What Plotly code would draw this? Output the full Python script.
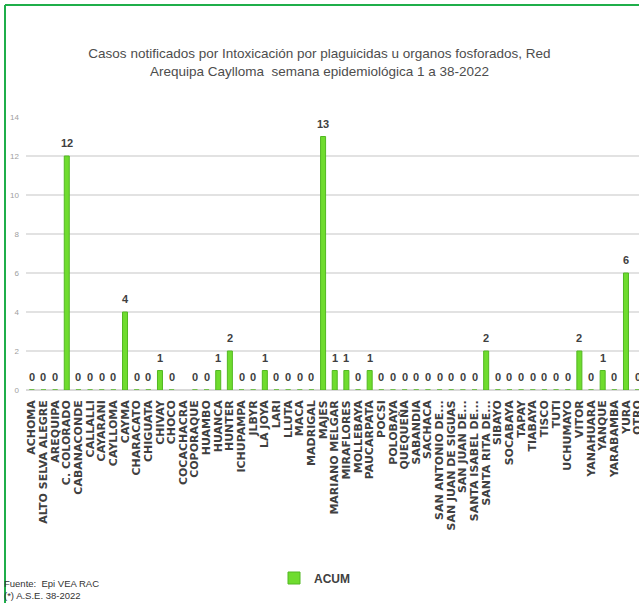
import plotly.graph_objects as go

categories = [
    "ACHOMA", "ALTO SELVA ALEGRE", "AREQUIPA", "C. COLORADO", "CABANACONDE",
    "CALLALLI", "CAYARANI", "CAYLLOMA", "CAYMA", "CHARACATO", "CHIGUATA",
    "CHIVAY", "CHOCO", "COCACHACRA", "COPORAQUE", "HUAMBO", "HUANCA", "HUNTER",
    "ICHUPAMPA", "JLBYR", "LA JOYA", "LARI", "LLUTA", "MACA", "MADRIGAL",
    "MAJES", "MARIANO MELGAR", "MIRAFLORES", "MOLLEBAYA", "PAUCARPATA",
    "POCSI", "POLOBAYA", "QUEQUEÑA", "SABANDIA", "SACHACA",
    "SAN ANTONIO DE...", "SAN JUAN DE SIGUAS", "SAN JUAN DE...",
    "SANTA ISABEL DE...", "SANTA RITA DE...", "SIBAYO", "SOCABAYA", "TAPAY",
    "TIABAYA", "TISCO", "TUTI", "UCHUMAYO", "VITOR", "YANAHUARA", "YANQUE",
    "YARABAMBA", "YURA", "OTRO",
]
acum = [
    0, 0, 0, 12, 0,
    0, 0, 0, 4, 0, 0,
    1, 0, None, 0, 0, 1, 2,
    0, 0, 1, 0, 0, 0, 0,
    13, 1, 1, 0, 1,
    0, 0, 0, 0, 0,
    0, 0, 0,
    0, 2, 0, 0, 0,
    0, 0, 0, 0, 2, 0, 1,
    0, 6, 0,
]
y_ticks = [0, 2, 4, 6, 8, 10, 12, 14]
title_text = ("Casos notificados por Intoxicación por plaguicidas u organos fosforados, Red"
              "<br>Arequipa Caylloma  semana epidemiológica 1 a 38-2022")
source_lines = ["Fuente:  Epi VEA RAC", "(*) A.S.E. 38-2022"]

W, H = 639, 603
L, T, B = 26, 117, 390
STEP = 11.65
plot_w = W - L
plot_h = B - T

def px_x(p):
    return (p - L) / plot_w

def px_y(p):
    return (B - p) / plot_h

sans = "Liberation Sans, Arial, sans-serif"

fig = go.Figure()
fig.add_trace(go.Bar(
    x=categories,
    y=acum,
    name="ACUM",
    width=0.43,
    marker=dict(color="#6fdc2e", line=dict(color="#52b822", width=1)),
    hoverinfo="x+y",
))

value_labels = [
    dict(x=c, y=v, xref="x", yref="y", text=str(v), showarrow=False,
         yanchor="bottom", yshift=5,
         font=dict(family=sans, size=11, color="#404040", weight="bold"))
    for c, v in zip(categories, acum) if v is not None
]

fig.update_layout(
    width=W, height=H,
    margin=dict(l=L, r=0, t=T, b=H - B, pad=0, autoexpand=False),
    paper_bgcolor="white",
    plot_bgcolor="white",
    title=dict(
        text=title_text,
        x=0.5, xanchor="center", xref="container",
        y=1 - 58 / H, yanchor="middle", yref="container",
        font=dict(family=sans, size=13.5, color="#4d4d4d"),
        automargin=False,
    ),
    xaxis=dict(
        type="category",
        range=[-0.5, plot_w / STEP - 0.5],
        tickmode="array",
        tickvals=categories,
        ticktext=categories,
        tickangle=-90,
        tickfont=dict(family="DejaVu Sans", size=11, color="#404040", weight="bold"),
        ticklabelstandoff=7,
        showgrid=False,
        showline=False,
        ticks="",
        automargin=False,
    ),
    yaxis=dict(
        range=[0, 14],
        tickvals=y_ticks,
        tickfont=dict(family=sans, size=8, color="#a0a0a0"),
        showgrid=True,
        gridcolor="#e2e2e2",
        gridwidth=1.5,
        zeroline=True,
        zerolinecolor="#d9d9d9",
        zerolinewidth=1.5,
        ticks="",
        ticklabelstandoff=6,
        automargin=False,
    ),
    showlegend=True,
    legend=dict(
        x=px_x(274), xanchor="left",
        y=px_y(578), yanchor="middle",
        font=dict(family=sans, size=12, color="#404040", weight="bold"),
        itemwidth=30,
        bgcolor="rgba(0,0,0,0)",
    ),
    annotations=value_labels + [
        dict(text=source_lines[0], xref="paper", yref="paper",
             x=px_x(2), y=px_y(583), xanchor="left", yanchor="middle",
             showarrow=False, font=dict(family=sans, size=9.5, color="#333333")),
        dict(text=source_lines[1], xref="paper", yref="paper",
             x=px_x(2), y=px_y(595), xanchor="left", yanchor="middle",
             showarrow=False, font=dict(family=sans, size=9.5, color="#333333")),
    ],
    shapes=[
        dict(type="line", xref="paper", yref="paper",
             x0=px_x(5), x1=px_x(5), y0=px_y(5), y1=px_y(610),
             line=dict(color="#1fae4a", width=2)),
        dict(type="line", xref="paper", yref="paper",
             x0=px_x(5), x1=px_x(645), y0=px_y(5), y1=px_y(5),
             line=dict(color="#1fae4a", width=2)),
    ],
)

fig.write_html(
    "out.html",
    config={"displayModeBar": False},
    post_script="document.body.style.margin='0';document.body.style.overflow='hidden';",
)
